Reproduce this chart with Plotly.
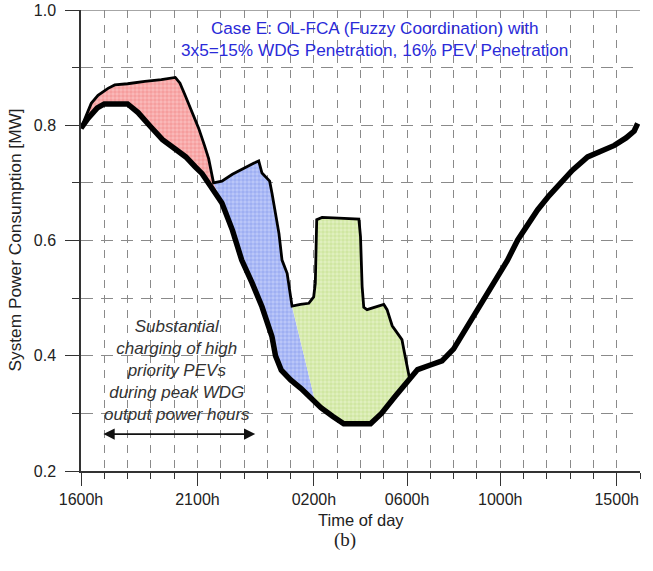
import numpy as np
import plotly.graph_objects as go

# ---- data (hours since 00:00 of day 1; 24+ = next day) ----
base_hours = [16.0, 16.3, 16.7, 17.0, 18.0, 18.45, 19.0, 19.5, 20.0, 20.5, 20.9, 21.2, 21.5,
              22.05, 22.5, 22.9, 23.35, 23.77, 24.2, 24.35, 24.6, 25.0, 25.45, 26.0, 26.3,
              26.8, 27.28, 28.43, 28.9, 29.5, 30.0, 30.45, 31.0, 31.5, 32.0, 32.7, 33.3,
              33.9, 34.3, 34.75, 35.2, 35.6, 36.1, 36.6, 37.1, 37.75, 38.3, 38.9, 39.4,
              39.75, 39.9]
base_mw = [0.795, 0.812, 0.830, 0.837, 0.837, 0.822, 0.797, 0.775, 0.760, 0.745, 0.728, 0.716,
           0.698, 0.665, 0.618, 0.566, 0.526, 0.485, 0.433, 0.400, 0.375, 0.358, 0.343, 0.322,
           0.310, 0.295, 0.282, 0.282, 0.300, 0.330, 0.355, 0.376, 0.384, 0.391, 0.412, 0.458,
           0.500, 0.537, 0.565, 0.601, 0.630, 0.653, 0.678, 0.700, 0.722, 0.745, 0.755, 0.765,
           0.778, 0.790, 0.803]

total_hours = [16.0, 16.2, 16.44, 16.73, 17.16, 17.45, 18.0, 18.74, 19.45, 20.05, 20.25, 20.47,
               20.8, 21.05, 21.3, 21.48, 21.69, 22.05, 22.5, 23.0, 23.41, 23.63, 23.77, 24.1,
               24.2, 24.5, 24.63, 24.85, 25.06, 25.42, 25.78, 25.99, 26.06, 26.12, 26.35, 27.07,
               27.93, 28.0, 28.07, 28.14, 28.28, 29.0, 29.14, 29.36, 29.57, 29.78, 29.86, 30.0,
               30.1]
total_mw = [0.795, 0.815, 0.838, 0.852, 0.864, 0.870, 0.872, 0.876, 0.879, 0.883, 0.873, 0.852,
            0.820, 0.795, 0.765, 0.742, 0.700, 0.703, 0.715, 0.726, 0.734, 0.738, 0.717, 0.703,
            0.682, 0.612, 0.566, 0.543, 0.486, 0.489, 0.491, 0.502, 0.526, 0.636, 0.640, 0.639,
            0.637, 0.607, 0.520, 0.484, 0.480, 0.489, 0.480, 0.452, 0.440, 0.428, 0.411, 0.385,
            0.362]

# region split points (hour on total curve, hour on base curve)
red_blue_split = (21.69, 22.05)
blue_green_split = (25.06, 26.06)

tick_hours = [16, 21, 26, 30, 34, 39]
tick_labels = ["1600h", "2100h", "0200h", "0600h", "1000h", "1500h"]
y_ticks = [0.2, 0.4, 0.6, 0.8, 1.0]
y_labels = ["0.2", "0.4", "0.6", "0.8", "1.0"]

bh = np.array(base_hours); bm = np.array(base_mw)
th = np.array(total_hours); tm = np.array(total_mw)


def region(t0, t1, b0, b1):
    mt = (th >= t0 - 1e-9) & (th <= t1 + 1e-9)
    mb = (bh > b0 + 1e-9) & (bh < b1 - 1e-9)
    ux = list(th[mt]); uy = list(tm[mt])
    lx = [b1] + list(bh[mb][::-1]) + [b0]
    ly = [float(np.interp(b1, bh, bm))] + list(bm[mb][::-1]) + [float(np.interp(b0, bh, bm))]
    return ux + lx, uy + ly


fig = go.Figure()

regions = [
    (region(16.0, red_blue_split[0], 16.0, red_blue_split[1]), "#e83030", "#f9b8b8"),
    (region(red_blue_split[0], blue_green_split[0], red_blue_split[1], blue_green_split[1]), "#3050e0", "#bac6f8"),
    (region(blue_green_split[0], 30.1, blue_green_split[1], 30.1), "#90c030", "#e0efbe"),
]
for (rx, ry), fg, bg in regions:
    fig.add_trace(go.Scatter(x=rx, y=ry, mode="lines", fill="toself",
                             line=dict(width=0, color=bg), fillcolor=bg,
                             fillpattern=dict(shape="+", fgcolor=fg, bgcolor=bg,
                                              size=4, solidity=0.2),
                             hoverinfo="skip", showlegend=False))

fig.add_trace(go.Scatter(x=total_hours, y=total_mw, mode="lines",
                         line=dict(color="black", width=2.8), showlegend=False))
fig.add_trace(go.Scatter(x=base_hours, y=base_mw, mode="lines",
                         line=dict(color="black", width=5.5), showlegend=False))

grid_c = "#8a8a8a"
fig.update_xaxes(range=[16, 40], tickmode="array", tickvals=tick_hours, ticktext=tick_labels,
                 ticks="outside", ticklen=13, tickwidth=1.3, tickcolor="#333",
                 showline=True, linecolor="#333", linewidth=1.5, automargin=False,
                 showgrid=True, gridcolor=grid_c, griddash="8px,7px", gridwidth=1,
                 minor=dict(dtick=1, tick0=16, ticks="outside", ticklen=6, tickcolor="#333",
                            showgrid=True, gridcolor=grid_c, griddash="8px,7px", gridwidth=1),
                 tickfont=dict(family="Liberation Sans, Arial", size=16, color="#222"),
                 zeroline=False)
fig.update_yaxes(range=[0.2, 1.0], tickmode="array", tickvals=y_ticks, ticktext=y_labels,
                 ticks="outside", ticklen=14, tickwidth=1.3, tickcolor="#333",
                 showline=True, linecolor="#333", linewidth=1.5, automargin=False,
                 ticklabelstandoff=6,
                 showgrid=True, gridcolor=grid_c, griddash="12px,8px", gridwidth=1,
                 minor=dict(dtick=0.1, tick0=0.2, ticks="outside", ticklen=7, tickcolor="#333",
                            showgrid=True, gridcolor=grid_c, griddash="12px,8px", gridwidth=1),
                 tickfont=dict(family="Liberation Sans, Arial", size=16, color="#222"),
                 zeroline=False)

fig.add_shape(type="line", xref="paper", yref="y", x0=0, x1=1, y0=1.0, y1=1.0,
              line=dict(color="#888", width=1.5))

fig.add_annotation(x=28.62, y=0.9505, xref="x", yref="y", showarrow=False,
                   text="Case E: OL-FCA (Fuzzy Coordination) with<br>3x5=15% WDG Penetration, 16% PEV Penetration",
                   font=dict(family="Liberation Sans, Arial", size=17.2, color="#2a2ad8"),
                   align="center")
fig.add_annotation(x=20.10, y=0.3744, xref="x", yref="y", showarrow=False,
                   text="<i>Substantial<br>charging of high<br>priority PEVs<br>during peak WDG<br>output power hours</i>",
                   font=dict(family="Liberation Sans, Arial", size=17, color="#333"),
                   align="center")
fig.add_annotation(x=23.48, y=0.264, ax=16.9, ay=0.264, xref="x", yref="y",
                   axref="x", ayref="y", text="", showarrow=True,
                   arrowhead=2, startarrowhead=2, arrowside="end+start",
                   arrowsize=1.4, startarrowsize=1.4, arrowwidth=1.6, arrowcolor="#111")
fig.add_annotation(x=0.5, y=0, xref="paper", yref="paper", yshift=-49, showarrow=False,
                   text="Time of day", yanchor="middle",
                   font=dict(family="Liberation Sans, Arial", size=16.5, color="#222"))
fig.add_annotation(x=0, y=0.5, xref="paper", yref="paper", xshift=-67, showarrow=False,
                   text="System Power Consumption [MW]", textangle=-90, xanchor="center",
                   font=dict(family="Liberation Sans, Arial", size=17.3, color="#222"))
fig.add_annotation(x=(345 - 81) / 559, y=(471 - 553) / 461, xref="paper", yref="paper",
                   showarrow=False, text="(b)",
                   font=dict(family="Liberation Serif, Times New Roman", size=19, color="#222"))

fig.update_layout(width=653, height=571, margin=dict(l=81, r=13, t=10, b=100, autoexpand=False),
                  plot_bgcolor="white", paper_bgcolor="white", showlegend=False)

fig.write_html("out.html", config={"displayModeBar": False},
               post_script="document.body.style.margin='0px';document.body.style.overflow='hidden';")
